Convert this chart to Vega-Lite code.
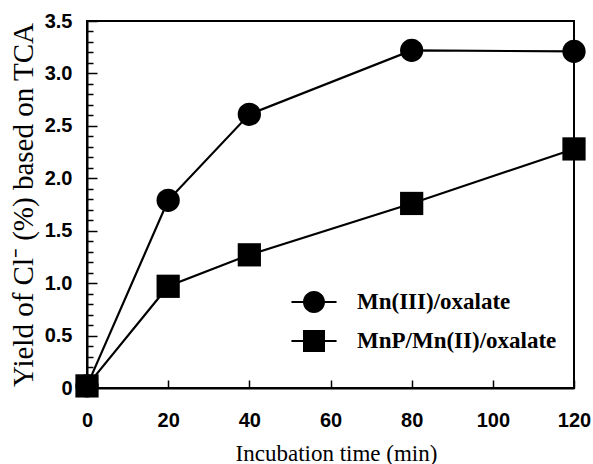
{
  "$schema": "https://vega.github.io/schema/vega-lite/v6.json",
  "width": 487,
  "height": 367,
  "autosize": "none",
  "padding": {"left": 87, "top": 21, "right": 19, "bottom": 76},
  "background": "white",
  "config": {"view": {"stroke": "black", "strokeWidth": 2}},
  "data": {
    "values": [
      {"series": "Mn(III)/oxalate", "time": 0, "yield": 0.02},
      {"series": "Mn(III)/oxalate", "time": 20, "yield": 1.79},
      {"series": "Mn(III)/oxalate", "time": 40, "yield": 2.61},
      {"series": "Mn(III)/oxalate", "time": 80, "yield": 3.22},
      {"series": "Mn(III)/oxalate", "time": 120, "yield": 3.21},
      {"series": "MnP/Mn(II)/oxalate", "time": 0, "yield": 0.02},
      {"series": "MnP/Mn(II)/oxalate", "time": 20, "yield": 0.97},
      {"series": "MnP/Mn(II)/oxalate", "time": 40, "yield": 1.27},
      {"series": "MnP/Mn(II)/oxalate", "time": 80, "yield": 1.76},
      {"series": "MnP/Mn(II)/oxalate", "time": 120, "yield": 2.28}
    ]
  },
  "encoding": {
    "x": {
      "field": "time",
      "type": "quantitative",
      "scale": {"domain": [0, 120], "nice": false},
      "axis": {
        "title": "Incubation time (min)",
        "values": [0, 20, 40, 60, 80, 100, 120],
        "format": "d",
        "grid": false,
        "domainColor": "black",
        "domainWidth": 2,
        "tickColor": "black",
        "tickWidth": 1.5,
        "tickSize": -8,
        "labelPadding": 30,
        "labelBaseline": "top",
        "labelFont": "Liberation Sans",
        "labelFontSize": 20,
        "labelFontWeight": "bold",
        "labelColor": "black",
        "labelFlush": false,
        "titleFont": "Liberation Serif",
        "titleFontSize": 23,
        "titleFontWeight": "normal",
        "titleColor": "black",
        "titleX": 249,
        "titleY": 72,
        "titleBaseline": "alphabetic"
      }
    },
    "y": {
      "field": "yield",
      "type": "quantitative",
      "scale": {"domain": [0, 3.5], "nice": false},
      "axis": {
        "title": "Yield of Cl⁻ (%) based on TCA",
        "values": [0, 0.1, 0.2, 0.3, 0.4, 0.5, 0.6, 0.7, 0.8, 0.9, 1.0, 1.1, 1.2, 1.3, 1.4, 1.5, 1.6, 1.7, 1.8, 1.9, 2.0, 2.1, 2.2, 2.3, 2.4, 2.5, 2.6, 2.7, 2.8, 2.9, 3.0, 3.1, 3.2, 3.3, 3.4, 3.5],
        "labelExpr": "abs(datum.value * 2 - round(datum.value * 2)) < 0.001 ? (datum.value == 0 ? '0' : format(datum.value, '.1f')) : ''",
        "grid": false,
        "domainColor": "black",
        "domainWidth": 2,
        "tickColor": "black",
        "tickWidth": 1.5,
        "tickSize": {"condition": {"test": "abs(datum.value * 2 - round(datum.value * 2)) < 0.001", "value": -10}, "value": -6},
        "labelPadding": 25,
        "labelFont": "Liberation Sans",
        "labelFontSize": 20,
        "labelFontWeight": "bold",
        "labelColor": "black",
        "labelFlush": false,
        "titleFont": "Liberation Serif",
        "titleFontSize": 29,
        "titleFontWeight": "normal",
        "titleColor": "black",
        "titleX": -64,
        "titleY": 183.5,
        "titleBaseline": "middle"
      }
    }
  },
  "resolve": {"scale": {"shape": "independent"}, "legend": {"shape": "independent"}},
  "layer": [
    {
      "mark": {"type": "line", "color": "black", "strokeWidth": 2.2},
      "encoding": {"detail": {"field": "series"}}
    },
    {
      "mark": {"type": "point", "filled": true, "color": "black", "opacity": 1, "size": 540},
      "encoding": {
        "shape": {
          "field": "series",
          "type": "nominal",
          "scale": {"domain": ["Mn(III)/oxalate", "MnP/Mn(II)/oxalate"], "range": ["circle", "square"]},
          "legend": null
        }
      }
    },
    {
      "transform": [{"filter": "datum.time < 0"}],
      "mark": {"type": "point", "filled": true, "color": "black", "opacity": 1, "size": 484},
      "encoding": {
        "shape": {
          "field": "series",
          "type": "nominal",
          "scale": {
            "domain": ["Mn(III)/oxalate", "MnP/Mn(II)/oxalate"],
            "range": [
              "M1,0A1,1,0,1,1,-1,0A1,1,0,1,1,1,0ZM-2.05,-0.09H-0.97V0.09H-2.05ZM0.97,-0.09H2.05V0.09H0.97Z",
              "M-1,-1H1V1H-1ZM-2.05,-0.09H-1V0.09H-2.05ZM1,-0.09H2.05V0.09H1Z"
            ]
          },
          "legend": {
            "title": null,
            "orient": "none",
            "legendX": 215,
            "legendY": 269,
            "padding": 0,
            "symbolSize": 484,
            "symbolFillColor": "black",
            "symbolOpacity": 1,
            "labelFont": "Liberation Serif",
            "labelFontSize": 23,
            "labelFontWeight": "bold",
            "labelColor": "black",
            "labelLimit": 400,
            "labelOffset": 31,
            "rowPadding": 11
          }
        }
      }
    }
  ]
}
